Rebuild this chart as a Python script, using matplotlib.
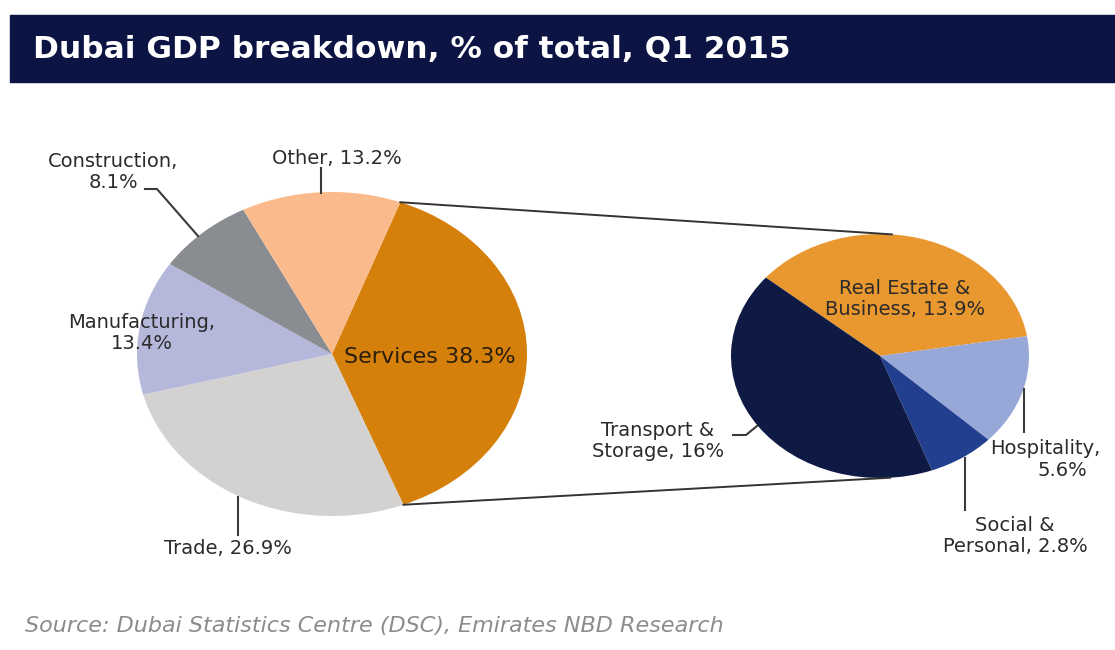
"""
Dubai GDP breakdown, Q1 2015 - pie of pie (Services split out on the right).
"""
import numpy as np
import matplotlib.pyplot as plt
from matplotlib.patches import Rectangle

plt.rcParams['font.family'] = ['DejaVu Sans']

W, H = 1115, 650

# main pie
main_labels = ["Services", "Trade", "Manufacturing", "Construction", "Other"]
main_values = [38.3, 26.9, 13.4, 8.1, 13.2]
main_colors = ["#D6800C", "#D4D1D1", "#B5B8DA", "#898C91", "#FBBA8C"]

# breakdown of Services
sub_labels = ["Real Estate & Business", "Hospitality", "Social & Personal", "Transport & Storage"]
sub_values = [13.9, 5.6, 2.8, 16.0]
sub_colors = ["#E9972F", "#97A8D8", "#223F8F", "#0E1944"]

title = "Dubai GDP breakdown, % of total, Q1 2015"
source = "Source: Dubai Statistics Centre (DSC), Emirates NBD Research"

fig = plt.figure(figsize=(W / 100, H / 100), dpi=100)

# pie geometry in pixels (pies are slightly squashed in the original)
L = dict(cx=332, cy=354, rx=195, ry=162)
R = dict(cx=880, cy=356, rx=149, ry=122)
L_start, R_start = 69.5, 140


def px_axes(cx, cy, rx, ry):
    return fig.add_axes([(cx - rx) / W, 1 - (cy + ry) / H, 2 * rx / W, 2 * ry / H])


def draw_pie(geom, values, colors, start):
    a = px_axes(**geom)
    a.pie(values, colors=colors, startangle=start, counterclock=False,
          radius=1, wedgeprops=dict(linewidth=0))
    a.set_aspect('auto'); a.set_xlim(-1, 1); a.set_ylim(-1, 1); a.axis('off')
    return a


draw_pie(L, main_values, main_colors, L_start)
draw_pie(R, sub_values, sub_colors, R_start)


def on_ellipse(g, deg):
    t = np.radians(deg)
    return g["cx"] + g["rx"] * np.cos(t), g["cy"] - g["ry"] * np.sin(t)


def tangent(g, p, upper):
    u = (p[0] - g["cx"]) / g["rx"]
    v = (g["cy"] - p[1]) / g["ry"]
    r, phi = np.hypot(u, v), np.degrees(np.arctan2(v, u))
    d = np.degrees(np.arccos(1 / r))
    return on_ellipse(g, phi - d if upper else phi + d)


# overlay for title bar, connectors, labels
ax = fig.add_axes([0, 0, 1, 1], zorder=5)
ax.set_xlim(0, W); ax.set_ylim(H, 0); ax.axis('off')

ax.add_patch(Rectangle((10, 15), W - 10, 67, color="#0B1443", zorder=1))
ax.text(33, 49, title, color="white", fontsize=22.5, fontweight="bold",
        ha="left", va="center")

# connectors from the Services wedge to the right pie
svc_span = 360 * main_values[0] / sum(main_values)
p_top = on_ellipse(L, L_start)
p_bot = on_ellipse(L, L_start - svc_span)
q_top = tangent(R, p_top, upper=True)
q_bot = tangent(R, p_bot, upper=False)
for p, q in [(p_top, q_top), (p_bot, q_bot)]:
    ax.plot([p[0], q[0]], [p[1], q[1]], color="#333333", lw=1.4)

lc = "#3A3A3A"
leaders = [
    [(145, 189), (157, 189), (198, 236)],
    [(321, 168), (321, 193)],
    [(238, 535), (238, 497)],
    [(733, 435), (746, 435), (757, 426)],
    [(1024, 432), (1024, 389)],
    [(965, 510), (965, 458)],
]
for pts in leaders:
    xs, ys = zip(*pts)
    ax.plot(xs, ys, color=lc, lw=1.5)

tc = "#2B2B2B"
fs = 14
labels = [
    (113, 172, "Construction,\n8.1%"),
    (337, 158, "Other, 13.2%"),
    (142, 333, "Manufacturing,\n13.4%"),
    (228, 549, "Trade, 26.9%"),
    (905, 299, "Real Estate &\nBusiness, 13.9%"),
    (658, 441, "Transport &\nStorage, 16%"),
    (1015, 536, "Social &\nPersonal, 2.8%"),
]
for x, y, s in labels:
    ax.text(x, y, s, ha="center", va="center", fontsize=fs, color=tc,
            linespacing=1.15)
ax.text(990, 448, "Hospitality,", ha="left", va="center", fontsize=fs, color=tc)
ax.text(1062, 470, "5.6%", ha="center", va="center", fontsize=fs, color=tc)
ax.text(430, 357, "Services 38.3%", ha="center", va="center", fontsize=16,
        color="#2A1E0C")

ax.text(25, 626, source, fontsize=16, style="italic", color="#8C8C8C",
        ha="left", va="center")

fig.savefig("out.png", dpi=100)
